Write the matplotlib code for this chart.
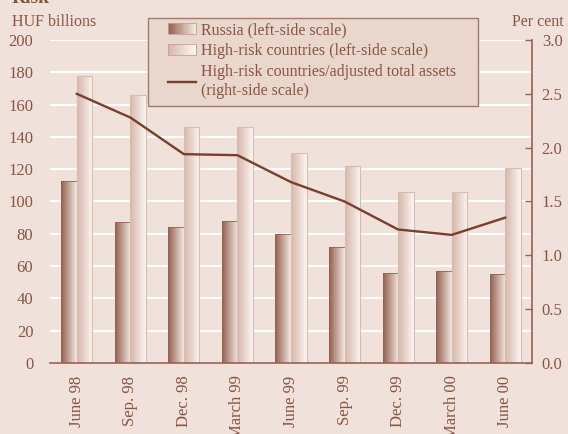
import matplotlib
matplotlib.use("Agg")
import matplotlib.pyplot as plt
import numpy as np
from matplotlib.patches import Rectangle
from matplotlib.lines import Line2D
from matplotlib.legend_handler import HandlerBase
from matplotlib.colors import to_rgb

plt.rcParams['font.family'] = ['Liberation Serif', 'DejaVu Serif']

quarters = ["June 98", "Sep. 98", "Dec. 98", "March 99", "June 99",
            "Sep. 99", "Dec. 99", "March 00", "June 00"]
russia = [113, 87, 84, 88, 80, 72, 56, 57, 55]
high_risk = [178, 166, 146, 146, 130, 122, 106, 106, 121]
share_of_assets = [2.50, 2.28, 1.94, 1.93, 1.68, 1.50, 1.24, 1.19, 1.35]

bg = "#f0e2da"
txt = "#8a5442"
dark = "#7a3e2c"
russia_cols = ("#93604e", "#f4e8e2")
risk_cols = ("#d6b7aa", "#fcf6f3")

W, H = 568, 434
fig = plt.figure(figsize=(W / 100, H / 100), dpi=100, facecolor=bg)


def px(x, y):
    return x / W, 1 - y / H


ax = fig.add_axes([50 / W, (H - 363) / H, 482 / W, 323 / H])
ax.set_facecolor(bg)

x = np.arange(len(quarters))
bw = 0.29
bars_r = ax.bar(x - bw / 2, russia, bw, facecolor="none", edgecolor="#9a6050",
                linewidth=0.6, zorder=3)
bars_h = ax.bar(x + bw / 2, high_risk, bw, facecolor="none", edgecolor="#d8bcb0",
                linewidth=0.8, zorder=3)


def gradient(c0, c1, n=64):
    a, b = np.array(to_rgb(c0)), np.array(to_rgb(c1))
    t = np.linspace(0, 1, n)[:, None]
    return (a + (b - a) * t)[None, :, :]


# fill each bar with a horizontal shade, clipped to the bar outline
for bars, cols in ((bars_r, russia_cols), (bars_h, risk_cols)):
    g = gradient(*cols)
    for b in bars:
        bx, by = b.get_x(), b.get_y()
        im = ax.imshow(g, extent=[bx, bx + b.get_width(), by, by + b.get_height()],
                       aspect="auto", zorder=2, interpolation="bilinear")
        im.set_clip_path(b)

ax.set_xlim(-0.5, len(quarters) - 0.5)
ax.set_ylim(0, 200)
ax.set_yticks(range(0, 201, 20))
ax.set_xticks(x)
ax.set_xticklabels(quarters, rotation=90, fontsize=12, color=txt)
ax.tick_params(axis="x", length=0, pad=9)
ax.tick_params(axis="y", length=0, pad=12, labelsize=12, labelcolor=txt)
ax.yaxis.grid(True, color="white", linewidth=1.5, zorder=1)
ax.set_axisbelow(True)
for s in ("left", "top", "right"):
    ax.spines[s].set_visible(False)
ax.spines["bottom"].set_color("#9a6050")
ax.spines["bottom"].set_linewidth(1.2)
ax.spines["bottom"].set_zorder(4)

ax2 = ax.twinx()
ax2.plot(x, share_of_assets, color=dark, linewidth=1.7, zorder=5)
ax2.set_ylim(0, 3)
ax2.set_yticks(np.arange(0, 3.01, 0.5))
ax2.set_yticklabels([f"{v:.1f}" for v in np.arange(0, 3.01, 0.5)])
ax2.tick_params(axis="y", direction="in", length=5, width=1, color="#9a6050",
                pad=7, labelsize=12, labelcolor=txt)
for s in ("left", "top", "bottom"):
    ax2.spines[s].set_visible(False)
ax2.spines["right"].set_color("#9a6050")
ax2.spines["right"].set_linewidth(1.2)

fig.text(*px(12, 22), "HUF billions", fontsize=11.5, color=txt, va="center")
fig.text(*px(564, 22), "Per cent", fontsize=11.5, color=txt, va="center", ha="right")
fig.text(*px(12, 3), "Risk", fontsize=14, fontweight="bold", color=txt, va="baseline")


class GradientHandler(HandlerBase):
    def __init__(self, c0, c1):
        super().__init__()
        self.c0, self.c1 = c0, c1

    def create_artists(self, legend, orig_handle, xdescent, ydescent,
                       width, height, fontsize, trans):
        g = gradient(self.c0, self.c1, 24)[0]
        n = len(g)
        out = []
        for i, c in enumerate(g):
            out.append(Rectangle((-xdescent + width * i / n, -ydescent), width / n + 0.05,
                                 height, facecolor=c, edgecolor="none", transform=trans))
        out.append(Rectangle((-xdescent, -ydescent), width, height, facecolor="none",
                             edgecolor="#c8a090", linewidth=0.6, transform=trans))
        return out


h_r = Rectangle((0, 0), 1, 1)
h_h = Rectangle((0, 0), 1, 1)
h_l = Line2D([], [], color=dark, linewidth=1.7)

# legend frame drawn separately so its size can be set directly
x0, y0 = px(148, 106)
x1, y1 = px(478, 18)
box = Rectangle((x0, y0), x1 - x0, y1 - y0, transform=fig.transFigure,
                facecolor="#e9d6cd", edgecolor="#a87a6a", linewidth=1.0, zorder=10)
fig.add_artist(box)

leg = fig.legend([h_r, h_h, h_l],
                 ["Russia (left-side scale)", "High-risk countries (left-side scale)",
                  "High-risk countries/adjusted total assets\n(right-side scale)"],
                 handler_map={h_r: GradientHandler(*russia_cols),
                              h_h: GradientHandler(*risk_cols)},
                 loc="upper left", bbox_to_anchor=px(168, 22), frameon=False,
                 borderpad=0, borderaxespad=0, fontsize=11.5, labelcolor=txt,
                 handlelength=1.75, handletextpad=0.3, labelspacing=0.32)
leg.set_zorder(11)

fig.savefig("out.png", dpi=100, facecolor=bg)
